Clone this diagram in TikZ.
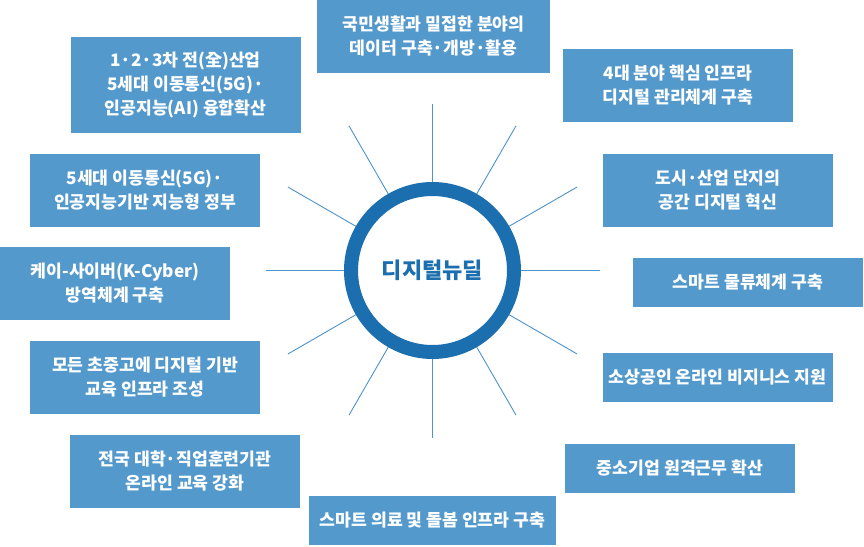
\documentclass[tikz,border=0pt]{standalone}
\usepackage{fontspec}
\usetikzlibrary{calc}
\setmainfont{Noto Sans CJK KR}
\definecolor{boxblue}{HTML}{5499CC}
\definecolor{ringblue}{HTML}{1B6FAE}
\definecolor{spokeblue}{HTML}{4D93CC}
\begin{document}
\begin{tikzpicture}[x=1pt,y=-1pt,
  item/.style={fill=boxblue,text=white,font=\fontsize{17.2}{24}\selectfont\bfseries,
    align=center,inner sep=0pt,minimum width=230pt,minimum height=73pt},
  short/.style={minimum height=49pt},
  spoke/.style={draw=spokeblue,line width=0.9pt}]
\useasboundingbox (0,0) rectangle (864,546);
\node[item,minimum width=233pt] (b1) at (433.5,36.5) {국민생활과 밀접한 분야의\\데이터 구축·개방·활용};
\node[item] (b2) at (678,85) {4대 분야 핵심 인프라\\디지털 관리체계 구축};
\node[item] (b3) at (718,190.5) {도시·산업 단지의\\공간 디지털 혁신};
\node[item,short] (b4) at (748,282.5) {스마트 물류체계 구축};
\node[item,short] (b5) at (717.5,377.5) {소상공인 온라인 비지니스 지원};
\node[item,short] (b6) at (680,468) {중소기업 원격근무 확산};
\node[item,short,minimum width=247pt] (b7) at (432.5,520) {스마트 의료 및 돌봄 인프라 구축};
\node[item] (b8) at (185,471.5) {전국 대학·직업훈련기관\\온라인 교육 강화};
\node[item] (b9) at (145,377) {모든 초중고에 디지털 기반\\교육 인프라 조성};
\node[item] (b10) at (115,283) {케이-사이버(K-Cyber)\\방역체계 구축};
\node[item] (b11) at (145,190.5) {5세대 이동통신(5G)·\\인공지능기반 지능형 정부};
\node[item,minimum height=96pt] (b12) at (185.5,85) {1·2·3차 전(全)산업\\5세대 이동통신(5G)·\\인공지능(AI) 융합확산};
\coordinate (c) at (432.5,270.5);
\foreach \a in {0,30,...,330}{
  \draw[spoke] ($(c)+(\a:88)$) -- ($(c)+(\a:167)$);
}
\node[circle,draw=ringblue,line width=14pt,minimum size=163pt,inner sep=0pt,
  text=ringblue,font=\fontsize{22}{26}\selectfont\bfseries] (hub) at (c) {디지털뉴딜};
\end{tikzpicture}
\end{document}
